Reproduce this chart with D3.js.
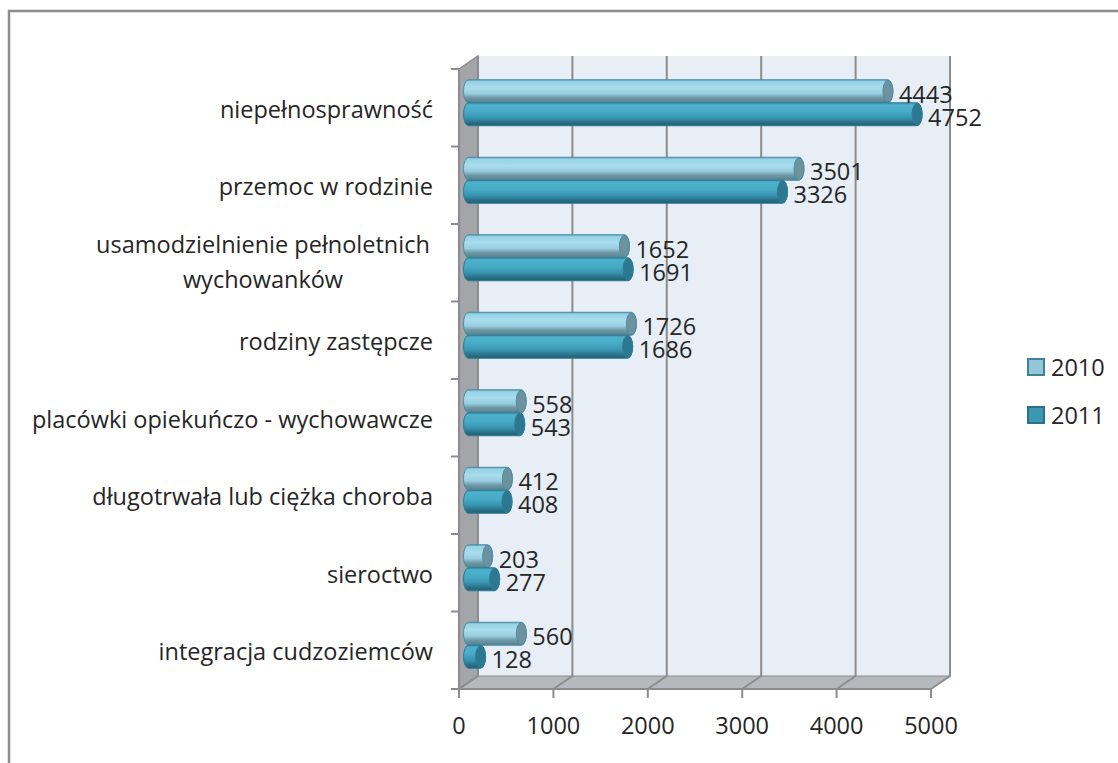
<!DOCTYPE html>
<html>
<head>
<meta charset="utf-8">
<script src="https://cdn.jsdelivr.net/npm/d3@7"></script>
<style>
  html, body { margin: 0; padding: 0; background: #fff; }
  svg { display: block; }
  text { font-family: "Open Sans", sans-serif; fill: #262626; }
</style>
</head>
<body>
<svg id="chart" width="1118" height="763"></svg>
<script>
// data
const categories = [
  ["niepełnosprawność"],
  ["przemoc w rodzinie"],
  ["usamodzielnienie pełnoletnich ", "wychowanków"],
  ["rodziny zastępcze"],
  ["placówki opiekuńczo - wychowawcze"],
  ["długotrwała lub ciężka choroba"],
  ["sieroctwo"],
  ["integracja cudzoziemców"]
];
const years = ["2010", "2011"];
const values2010 = [4443, 3501, 1652, 1726, 558, 412, 203, 560];
const values2011 = [4752, 3326, 1691, 1686, 543, 408, 277, 128];
const xTicks = [0, 1000, 2000, 3000, 4000, 5000];

// layout
const front = {left: 459, top: 69, bottom: 689, right: 931};
const depth = {dx: 19, dy: -13};
const barH = 23;
const capRx = 5;
const fs = 23.5;

const svg = d3.select("#chart");

// outer frame (only top and left visible)
svg.append("rect")
  .attr("x", 9).attr("y", 11)
  .attr("width", 1130).attr("height", 800)
  .attr("fill", "none").attr("stroke", "#8c8c8c").attr("stroke-width", 2.5);

const x = d3.scaleLinear().domain([0, 5000]).range([front.left, front.right]);
const y = d3.scaleBand().domain(d3.range(categories.length)).range([front.top, front.bottom]);

const defs = svg.append("defs");
function grad(id, stops) {
  const g = defs.append("linearGradient").attr("id", id)
    .attr("x1", 0).attr("y1", 0).attr("x2", 0).attr("y2", 1);
  stops.forEach(s => g.append("stop").attr("offset", s[0]).attr("stop-color", s[1]));
}
grad("g2010", [[0, "#5e9fb5"], [0.08, "#96d2e6"], [0.35, "#a9dded"], [0.6, "#98cddf"], [0.78, "#6f98a6"], [1, "#56808e"]]);
grad("g2011", [[0, "#3a93ad"], [0.1, "#4eb2cd"], [0.4, "#46a9c5"], [0.65, "#3895b1"], [0.85, "#2a7189"], [1, "#225e70"]]);
const seriesStyle = {
  "2010": {fill: "url(#g2010)", cap: "#6d929e", stroke: "#4a8ea4", legend: "#93c6d6", legendStroke: "#3c8399"},
  "2011": {fill: "url(#g2011)", cap: "#2c7891", stroke: "#2d7c95", legend: "#3c98b2", legendStroke: "#2a7189"}
};

const x0b = front.left + depth.dx, yTop = front.top + depth.dy, yBot = front.bottom + depth.dy;

// left wall
svg.append("path")
  .attr("d", `M${front.left},${front.top} L${x0b},${yTop} L${x0b},${yBot} L${front.left},${front.bottom} Z`)
  .attr("fill", "#a3a5a8").attr("stroke", "#8c8c8c").attr("stroke-width", 1.5);
// back wall
svg.append("rect")
  .attr("x", x0b).attr("y", yTop)
  .attr("width", x(5000) - front.left).attr("height", yBot - yTop)
  .attr("fill", "#e7eef6");
// floor
svg.append("path")
  .attr("d", `M${front.left},${front.bottom} L${x0b},${yBot} L${x(5000) + depth.dx},${yBot} L${x(5000)},${front.bottom} Z`)
  .attr("fill", "#b5b9bd");

// gridlines on back wall and floor
const grid = svg.append("g").attr("stroke", "#8c8c8c").attr("stroke-width", 2).attr("fill", "none");
grid.selectAll(".gl").data(xTicks).enter().append("path")
  .attr("d", d => `M${x(d)},${front.bottom} L${x(d) + depth.dx},${yBot} L${x(d) + depth.dx},${yTop}`);
grid.append("line")
  .attr("x1", x0b).attr("x2", x(5000) + depth.dx)
  .attr("y1", yBot).attr("y2", yBot).attr("stroke-width", 1);

// axes (front)
const axes = svg.append("g").attr("stroke", "#8c8c8c").attr("stroke-width", 2);
axes.append("line").attr("x1", front.left).attr("x2", front.left).attr("y1", front.top).attr("y2", front.bottom);
axes.append("line").attr("x1", front.left).attr("x2", front.right).attr("y1", front.bottom).attr("y2", front.bottom);
axes.selectAll(".yt").data(d3.range(categories.length + 1)).enter().append("line")
  .attr("x1", front.left - 8).attr("x2", front.left)
  .attr("y1", i => front.top + i * y.step()).attr("y2", i => front.top + i * y.step());
axes.selectAll(".xt").data(xTicks).enter().append("line")
  .attr("x1", d => x(d)).attr("x2", d => x(d))
  .attr("y1", front.bottom).attr("y2", front.bottom + 9);

svg.selectAll(".xl").data(xTicks).enter().append("text")
  .attr("x", d => x(d)).attr("y", 734)
  .attr("text-anchor", "middle").attr("font-size", fs)
  .text(d => d);

// category labels
categories.forEach((lines, i) => {
  const cy = y(i) + y.bandwidth() / 2;
  if (lines.length === 1) {
    svg.append("text").attr("x", 433).attr("y", cy + 10)
      .attr("text-anchor", "end").attr("font-size", fs).text(lines[0]);
  } else {
    lines.forEach((t, j) => {
      svg.append("text").attr("x", 263).attr("y", cy - 10 + j * 35)
        .attr("text-anchor", "middle").attr("font-size", fs).text(t);
    });
  }
});

// bars (cylinders, placed at half depth)
const bx = v => x(v) + depth.dx / 2;
const series = [values2010, values2011];
const bars = svg.append("g");
series.forEach((vals, s) => {
  const st = seriesStyle[years[s]];
  vals.forEach((v, i) => {
    const cy = y(i) + y.bandwidth() / 2 - 5;
    const y0 = cy - barH + s * barH, y1 = y0 + barH;
    const xa = bx(0), xb = bx(v);
    const ry = barH / 2;
    bars.append("path")
      .attr("d", `M${xa},${y0} H${xb} A${capRx},${ry} 0 0 1 ${xb},${y1} H${xa} A${capRx},${ry} 0 0 1 ${xa},${y0} Z`)
      .attr("fill", st.fill).attr("stroke", st.stroke).attr("stroke-width", 1);
    bars.append("ellipse")
      .attr("cx", xb).attr("cy", (y0 + y1) / 2)
      .attr("rx", capRx).attr("ry", ry - 0.5)
      .attr("fill", st.cap).attr("stroke", st.stroke).attr("stroke-width", 1);
    svg.append("text")
      .attr("x", xb + capRx + 6).attr("y", (y0 + y1) / 2 + 11.5)
      .attr("font-size", fs).text(v);
  });
});

// legend
const legend = svg.append("g");
years.forEach((yr, k) => {
  const st = seriesStyle[yr];
  const ly = 367 + k * 48;
  legend.append("rect").attr("x", 1028).attr("y", ly - 8).attr("width", 16).attr("height", 16)
    .attr("fill", st.legend).attr("stroke", st.legendStroke).attr("stroke-width", 2);
  legend.append("text").attr("x", 1051).attr("y", ly + 8.5).attr("font-size", fs).text(yr);
});
</script>
</body>
</html>
